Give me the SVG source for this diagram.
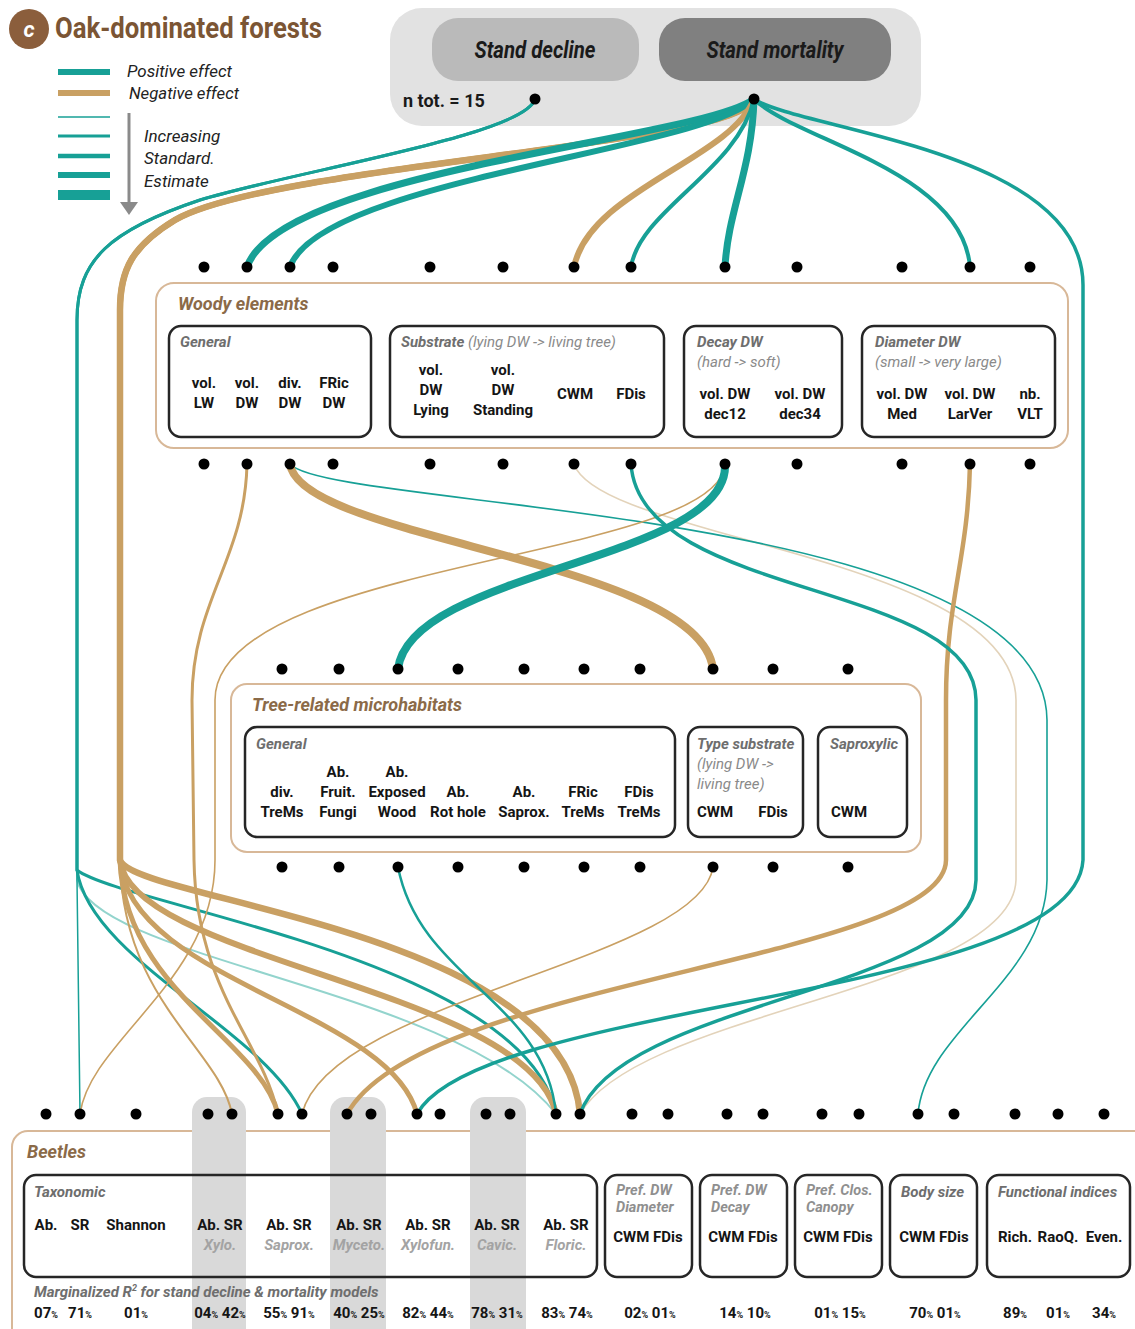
<svg xmlns="http://www.w3.org/2000/svg" width="1135" height="1329" viewBox="0 0 1135 1329">
<style>
.f{font-family:"Roboto","Liberation Sans",sans-serif}
.lbl{font-family:"Roboto","Liberation Sans",sans-serif;font-weight:bold;font-size:15px;fill:#151515;text-anchor:middle}
.hdr{font-family:"Roboto","Liberation Sans",sans-serif;font-weight:bold;font-style:italic;font-size:15px;fill:#6e6e6e}
.sub{font-family:"Roboto","Liberation Sans",sans-serif;font-style:italic;font-size:15px;fill:#8a8a8a}
.ph{font-family:"Roboto","Liberation Sans",sans-serif;font-weight:bold;font-style:italic;font-size:14.5px;fill:#8f8f8f}
.grp{font-family:"Roboto","Liberation Sans",sans-serif;font-weight:bold;font-style:italic;font-size:18px;fill:#8b6a48}
.gsub{font-family:"Roboto","Liberation Sans",sans-serif;font-weight:bold;font-style:italic;font-size:15px;fill:#a3a3a3;text-anchor:middle}
.pct{font-family:"Roboto","Liberation Sans",sans-serif;font-weight:bold;font-size:15px;fill:#151515;text-anchor:middle}
.pct tspan{font-size:9px}
.box{fill:none;stroke:#262626;stroke-width:2.5}
.grpbox{fill:#ffffff;fill-opacity:0.85;stroke:#d8b898;stroke-width:2}
.dot{fill:#000}
.t{fill:none;stroke:#17a096;stroke-linecap:round}
.n{fill:none;stroke:#c9a063;stroke-linecap:round}
.tl{fill:none;stroke:#93d4cd;stroke-linecap:round}
.nl{fill:none;stroke:#e3d3ba;stroke-linecap:round}
</style>
<rect width="1135" height="1329" fill="#fff"/>

<!-- title & legend -->
<g id="title">
<circle cx="29" cy="29" r="20" fill="#8b5e3c"/>
<text x="29" y="37" class="f" font-size="22" font-weight="bold" font-style="italic" fill="#fff" text-anchor="middle">c</text>
<text x="55" y="38" class="f" font-size="29" font-weight="bold" fill="#7b5534" textLength="267" lengthAdjust="spacingAndGlyphs">Oak-dominated forests</text>
</g>
<g id="legend">
<line x1="58" y1="72" x2="110" y2="72" stroke="#17a096" stroke-width="6"/>
<line x1="58" y1="93" x2="110" y2="93" stroke="#c9a063" stroke-width="6"/>
<line x1="58" y1="117" x2="110" y2="117" stroke="#17a096" stroke-width="1.5"/>
<line x1="58" y1="136" x2="110" y2="136" stroke="#17a096" stroke-width="3"/>
<line x1="58" y1="156" x2="110" y2="156" stroke="#17a096" stroke-width="4.5"/>
<line x1="58" y1="175" x2="110" y2="175" stroke="#17a096" stroke-width="6"/>
<line x1="58" y1="195" x2="110" y2="195" stroke="#17a096" stroke-width="10"/>
<line x1="129" y1="113" x2="129" y2="204" stroke="#8a8a8a" stroke-width="3"/>
<polygon points="120,202 138,202 129,215" fill="#8a8a8a"/>
<text x="127" y="77" class="f" font-size="17" font-style="italic" fill="#222" textLength="105" lengthAdjust="spacingAndGlyphs">Positive effect</text>
<text x="129" y="99" class="f" font-size="17" font-style="italic" fill="#222" textLength="110" lengthAdjust="spacingAndGlyphs">Negative effect</text>
<text x="144" y="142" class="f" font-size="17" font-style="italic" fill="#222">Increasing</text>
<text x="144" y="164" class="f" font-size="17" font-style="italic" fill="#222">Standard.</text>
<text x="144" y="187" class="f" font-size="17" font-style="italic" fill="#222">Estimate</text>
</g>

<!-- top panel -->
<g id="stand">
<rect x="390" y="8" width="531" height="118" rx="32" fill="#e2e2e2"/>
<rect x="432" y="18" width="207" height="63" rx="26" fill="#bababa"/>
<rect x="659" y="18" width="232" height="63" rx="26" fill="#808080"/>
<text x="535" y="58" class="f" font-size="23" font-weight="bold" font-style="italic" fill="#1a1a1a" text-anchor="middle" textLength="121" lengthAdjust="spacingAndGlyphs">Stand decline</text>
<text x="775" y="58" class="f" font-size="23" font-weight="bold" font-style="italic" fill="#1a1a1a" text-anchor="middle" textLength="137" lengthAdjust="spacingAndGlyphs">Stand mortality</text>
<text x="403" y="107" class="f" font-size="18" font-weight="bold" fill="#1a1a1a">n tot. = 15</text>
</g>

<!-- group boxes -->
<g id="woody">
<rect x="156" y="283" width="912" height="165" rx="18" class="grpbox"/>
<text x="178" y="310" class="grp">Woody elements</text>
<rect x="169" y="326" width="202" height="111" rx="12" class="box"/>
<rect x="390" y="326" width="274" height="111" rx="12" class="box"/>
<rect x="684" y="326" width="158" height="111" rx="12" class="box"/>
<rect x="862" y="326" width="193" height="111" rx="12" class="box"/>
<text x="180" y="347" class="hdr">General</text>
<text x="401" y="347" class="hdr">Substrate<tspan class="sub" font-weight="normal"> (lying DW -&gt; living tree)</tspan></text>
<text x="697" y="347" class="hdr">Decay DW</text>
<text x="697" y="367" class="sub">(hard -&gt; soft)</text>
<text x="875" y="347" class="hdr">Diameter DW</text>
<text x="875" y="367" class="sub">(small -&gt; very large)</text>
<text x="204" y="388" class="lbl">vol.</text><text x="204" y="408" class="lbl">LW</text>
<text x="247" y="388" class="lbl">vol.</text><text x="247" y="408" class="lbl">DW</text>
<text x="290" y="388" class="lbl">div.</text><text x="290" y="408" class="lbl">DW</text>
<text x="334" y="388" class="lbl">FRic</text><text x="334" y="408" class="lbl">DW</text>
<text x="431" y="375" class="lbl">vol.</text><text x="431" y="395" class="lbl">DW</text><text x="431" y="415" class="lbl">Lying</text>
<text x="503" y="375" class="lbl">vol.</text><text x="503" y="395" class="lbl">DW</text><text x="503" y="415" class="lbl">Standing</text>
<text x="575" y="399" class="lbl">CWM</text>
<text x="631" y="399" class="lbl">FDis</text>
<text x="725" y="399" class="lbl">vol. DW</text><text x="725" y="419" class="lbl">dec12</text>
<text x="800" y="399" class="lbl">vol. DW</text><text x="800" y="419" class="lbl">dec34</text>
<text x="902" y="399" class="lbl">vol. DW</text><text x="902" y="419" class="lbl">Med</text>
<text x="970" y="399" class="lbl">vol. DW</text><text x="970" y="419" class="lbl">LarVer</text>
<text x="1030" y="399" class="lbl">nb.</text><text x="1030" y="419" class="lbl">VLT</text>
</g>

<g id="trems">
<rect x="231" y="684" width="690" height="168" rx="16" class="grpbox"/>
<text x="252" y="711" class="grp">Tree-related microhabitats</text>
<rect x="245" y="727" width="430" height="110" rx="12" class="box"/>
<rect x="688" y="727" width="115" height="110" rx="12" class="box"/>
<rect x="818" y="727" width="89" height="110" rx="12" class="box"/>
<text x="256" y="749" class="hdr">General</text>
<text x="697" y="749" class="hdr">Type substrate</text>
<text x="697" y="769" class="sub">(lying DW -&gt;</text>
<text x="697" y="789" class="sub">living tree)</text>
<text x="830" y="749" class="hdr">Saproxylic</text>
<text x="282" y="797" class="lbl">div.</text><text x="282" y="817" class="lbl">TreMs</text>
<text x="338" y="777" class="lbl">Ab.</text><text x="338" y="797" class="lbl">Fruit.</text><text x="338" y="817" class="lbl">Fungi</text>
<text x="397" y="777" class="lbl">Ab.</text><text x="397" y="797" class="lbl">Exposed</text><text x="397" y="817" class="lbl">Wood</text>
<text x="458" y="797" class="lbl">Ab.</text><text x="458" y="817" class="lbl">Rot hole</text>
<text x="524" y="797" class="lbl">Ab.</text><text x="524" y="817" class="lbl">Saprox.</text>
<text x="583" y="797" class="lbl">FRic</text><text x="583" y="817" class="lbl">TreMs</text>
<text x="639" y="797" class="lbl">FDis</text><text x="639" y="817" class="lbl">TreMs</text>
<text x="715" y="817" class="lbl">CWM</text>
<text x="773" y="817" class="lbl">FDis</text>
<text x="849" y="817" class="lbl">CWM</text>
</g>

<g id="beetles">
<rect x="12" y="1131" width="1150" height="230" rx="16" fill="#fff" stroke="#d8b898" stroke-width="2"/>
<rect x="192" y="1097" width="54" height="250" rx="15" fill="#d9d9d9"/>
<rect x="330" y="1097" width="56" height="250" rx="15" fill="#d9d9d9"/>
<rect x="470" y="1097" width="56" height="250" rx="15" fill="#d9d9d9"/>
<text x="27" y="1158" class="grp">Beetles</text>
<rect x="24" y="1175" width="573" height="102" rx="12" class="box"/>
<rect x="605" y="1175" width="87" height="102" rx="12" class="box"/>
<rect x="700" y="1175" width="87" height="102" rx="12" class="box"/>
<rect x="795" y="1175" width="87" height="102" rx="12" class="box"/>
<rect x="890" y="1175" width="87" height="102" rx="12" class="box"/>
<rect x="987" y="1175" width="143" height="102" rx="12" class="box"/>
<text x="34" y="1197" class="hdr">Taxonomic</text>
<text x="616" y="1195" class="ph">Pref. DW</text><text x="616" y="1212" class="ph">Diameter</text>
<text x="711" y="1195" class="ph">Pref. DW</text><text x="711" y="1212" class="ph">Decay</text>
<text x="806" y="1195" class="ph">Pref. Clos.</text><text x="806" y="1212" class="ph">Canopy</text>
<text x="901" y="1197" class="hdr" fill="#8a8a8a">Body size</text>
<text x="998" y="1197" class="hdr">Functional indices</text>
<text x="46" y="1230" class="lbl">Ab.</text>
<text x="80" y="1230" class="lbl">SR</text>
<text x="136" y="1230" class="lbl">Shannon</text>
<text x="220" y="1230" class="lbl">Ab. SR</text><text x="220" y="1250" class="gsub">Xylo.</text>
<text x="289" y="1230" class="lbl">Ab. SR</text><text x="289" y="1250" class="gsub">Saprox.</text>
<text x="359" y="1230" class="lbl">Ab. SR</text><text x="359" y="1250" class="gsub">Myceto.</text>
<text x="428" y="1230" class="lbl">Ab. SR</text><text x="428" y="1250" class="gsub">Xylofun.</text>
<text x="497" y="1230" class="lbl">Ab. SR</text><text x="497" y="1250" class="gsub">Cavic.</text>
<text x="566" y="1230" class="lbl">Ab. SR</text><text x="566" y="1250" class="gsub">Floric.</text>
<text x="648" y="1242" class="lbl">CWM FDis</text>
<text x="743" y="1242" class="lbl">CWM FDis</text>
<text x="838" y="1242" class="lbl">CWM FDis</text>
<text x="934" y="1242" class="lbl">CWM FDis</text>
<text x="1015" y="1242" class="lbl">Rich.</text>
<text x="1058" y="1242" class="lbl">RaoQ.</text>
<text x="1104" y="1242" class="lbl">Even.</text>
<text x="34" y="1297" class="hdr" font-size="15.5">Marginalized R<tspan font-size="9" dy="-6">2</tspan><tspan dy="6"> for stand decline &amp; mortality models</tspan></text>
<text x="46" y="1318" class="pct">07<tspan>%</tspan></text>
<text x="80" y="1318" class="pct">71<tspan>%</tspan></text>
<text x="136" y="1318" class="pct">01<tspan>%</tspan></text>
<text x="220" y="1318" class="pct">04<tspan>%</tspan> 42<tspan>%</tspan></text>
<text x="289" y="1318" class="pct">55<tspan>%</tspan> 91<tspan>%</tspan></text>
<text x="359" y="1318" class="pct">40<tspan>%</tspan> 25<tspan>%</tspan></text>
<text x="428" y="1318" class="pct">82<tspan>%</tspan> 44<tspan>%</tspan></text>
<text x="497" y="1318" class="pct">78<tspan>%</tspan> 31<tspan>%</tspan></text>
<text x="567" y="1318" class="pct">83<tspan>%</tspan> 74<tspan>%</tspan></text>
<text x="650" y="1318" class="pct">02<tspan>%</tspan> 01<tspan>%</tspan></text>
<text x="745" y="1318" class="pct">14<tspan>%</tspan> 10<tspan>%</tspan></text>
<text x="840" y="1318" class="pct">01<tspan>%</tspan> 15<tspan>%</tspan></text>
<text x="935" y="1318" class="pct">70<tspan>%</tspan> 01<tspan>%</tspan></text>
<text x="1015" y="1318" class="pct">89<tspan>%</tspan></text>
<text x="1058" y="1318" class="pct">01<tspan>%</tspan></text>
<text x="1104" y="1318" class="pct">34<tspan>%</tspan></text>
</g>

<!-- connectors -->
<g id="connectors">
<path class="nl" stroke-width="1.6" d="M574,464 C600,540 1014,555 1016,700 L1016,880 C1012,990 640,1010 580,1114"/>
<path class="tl" stroke-width="2" d="M535,99 C525,135 300,170 200,200 C110,230 77,260 77,320 L77,880 C95,960 460,990 556,1114"/>
<path class="t" stroke-width="1.5" d="M535,99 C525,135 300,170 200,200 C110,230 77,260 77,320 L77,880 L80,1114"/>
<path class="t" stroke-width="3" d="M535,99 C525,135 300,170 200,200 C110,230 77,260 77,320 L77,870 C90,960 265,1030 302,1114"/>
<path class="t" stroke-width="3" d="M535,99 C525,135 300,170 200,200 C110,230 77,260 77,320 L77,870 C120,905 525,960 556,1114"/>
<path class="n" stroke-width="2" d="M754,99 C740,145 270,165 175,220 C132,246 120,270 120,310 L120,860 C122,1000 220,1050 232,1114"/>
<path class="n" stroke-width="5" d="M754,99 C740,145 270,165 175,220 C132,246 120,270 120,310 L120,860 C124,990 260,1040 278,1114"/>
<path class="n" stroke-width="5" d="M754,99 C740,145 270,165 175,220 C132,246 120,270 120,310 L120,860 C128,980 390,1010 417,1114"/>
<path class="n" stroke-width="6" d="M754,99 C740,145 270,165 175,220 C132,246 120,270 120,310 L120,860 C130,960 530,990 556,1114"/>
<path class="n" stroke-width="6.5" d="M754,99 C740,145 270,165 175,220 C132,246 120,270 120,310 L120,860 C132,900 565,930 580,1114"/>
<path class="t" stroke-width="3.5" d="M754,99 C800,130 1083,150 1083,285 L1083,860 C1075,1000 480,1000 417,1114"/>
<path class="t" stroke-width="7" d="M754,99 C700,140 280,170 247,267"/>
<path class="t" stroke-width="6" d="M754,99 C705,150 320,180 290,267"/>
<path class="n" stroke-width="6" d="M754,99 C730,160 590,190 574,267"/>
<path class="t" stroke-width="4" d="M754,99 C738,170 640,210 631,267"/>
<path class="t" stroke-width="7" d="M754,99 C752,170 728,210 725,267"/>
<path class="t" stroke-width="4" d="M754,99 C795,140 962,170 970,267"/>
<path class="t" stroke-width="1.6" d="M290,464 C330,510 1045,505 1047,720 L1047,880 C1045,980 925,1030 918,1114"/>
<path class="n" stroke-width="1.6" d="M725,464 C720,560 215,560 215,700 L215,860 C215,980 90,1040 80,1114"/>
<path class="n" stroke-width="3" d="M247,464 C245,560 192,600 192,700 L194,860 C196,990 262,1040 278,1114"/>
<path class="n" stroke-width="4.5" d="M970,464 C968,560 946,600 946,700 L946,860 C945,960 420,980 347,1114"/>
<path class="t" stroke-width="3.5" d="M631,464 C640,600 975,580 976,700 L976,880 C975,990 620,1000 580,1114"/>
<path class="n" stroke-width="8" d="M290,464 C300,540 700,560 713,669"/>
<path class="t" stroke-width="8" d="M725,464 C730,560 410,570 398,669"/>
<path class="n" stroke-width="1.6" d="M713,867 C700,960 330,1000 302,1114"/>
<path class="t" stroke-width="2.5" d="M398,867 C420,980 545,1000 556,1114"/>
</g>

<!-- dots -->
<g id="dots" class="dot">
<circle cx="535" cy="99" r="5.5"/><circle cx="754" cy="99" r="5.5"/>
<circle cx="204" cy="267" r="5.5"/><circle cx="247" cy="267" r="5.5"/><circle cx="290" cy="267" r="5.5"/><circle cx="333" cy="267" r="5.5"/><circle cx="430" cy="267" r="5.5"/><circle cx="503" cy="267" r="5.5"/><circle cx="574" cy="267" r="5.5"/><circle cx="631" cy="267" r="5.5"/><circle cx="725" cy="267" r="5.5"/><circle cx="797" cy="267" r="5.5"/><circle cx="902" cy="267" r="5.5"/><circle cx="970" cy="267" r="5.5"/><circle cx="1030" cy="267" r="5.5"/>
<circle cx="204" cy="464" r="5.5"/><circle cx="247" cy="464" r="5.5"/><circle cx="290" cy="464" r="5.5"/><circle cx="333" cy="464" r="5.5"/><circle cx="430" cy="464" r="5.5"/><circle cx="503" cy="464" r="5.5"/><circle cx="574" cy="464" r="5.5"/><circle cx="631" cy="464" r="5.5"/><circle cx="725" cy="464" r="5.5"/><circle cx="797" cy="464" r="5.5"/><circle cx="902" cy="464" r="5.5"/><circle cx="970" cy="464" r="5.5"/><circle cx="1030" cy="464" r="5.5"/>
<circle cx="282" cy="669" r="5.5"/><circle cx="339" cy="669" r="5.5"/><circle cx="398" cy="669" r="5.5"/><circle cx="458" cy="669" r="5.5"/><circle cx="524" cy="669" r="5.5"/><circle cx="584" cy="669" r="5.5"/><circle cx="640" cy="669" r="5.5"/><circle cx="713" cy="669" r="5.5"/><circle cx="773" cy="669" r="5.5"/><circle cx="848" cy="669" r="5.5"/>
<circle cx="282" cy="867" r="5.5"/><circle cx="339" cy="867" r="5.5"/><circle cx="398" cy="867" r="5.5"/><circle cx="458" cy="867" r="5.5"/><circle cx="524" cy="867" r="5.5"/><circle cx="584" cy="867" r="5.5"/><circle cx="640" cy="867" r="5.5"/><circle cx="713" cy="867" r="5.5"/><circle cx="773" cy="867" r="5.5"/><circle cx="848" cy="867" r="5.5"/>
<circle cx="46" cy="1114" r="5.5"/><circle cx="80" cy="1114" r="5.5"/><circle cx="136" cy="1114" r="5.5"/><circle cx="208" cy="1114" r="5.5"/><circle cx="232" cy="1114" r="5.5"/><circle cx="278" cy="1114" r="5.5"/><circle cx="302" cy="1114" r="5.5"/><circle cx="347" cy="1114" r="5.5"/><circle cx="371" cy="1114" r="5.5"/><circle cx="417" cy="1114" r="5.5"/><circle cx="440" cy="1114" r="5.5"/><circle cx="486" cy="1114" r="5.5"/><circle cx="510" cy="1114" r="5.5"/><circle cx="556" cy="1114" r="5.5"/><circle cx="580" cy="1114" r="5.5"/><circle cx="632" cy="1114" r="5.5"/><circle cx="668" cy="1114" r="5.5"/><circle cx="727" cy="1114" r="5.5"/><circle cx="763" cy="1114" r="5.5"/><circle cx="822" cy="1114" r="5.5"/><circle cx="859" cy="1114" r="5.5"/><circle cx="918" cy="1114" r="5.5"/><circle cx="954" cy="1114" r="5.5"/><circle cx="1015" cy="1114" r="5.5"/><circle cx="1058" cy="1114" r="5.5"/><circle cx="1104" cy="1114" r="5.5"/>
</g>
</svg>
